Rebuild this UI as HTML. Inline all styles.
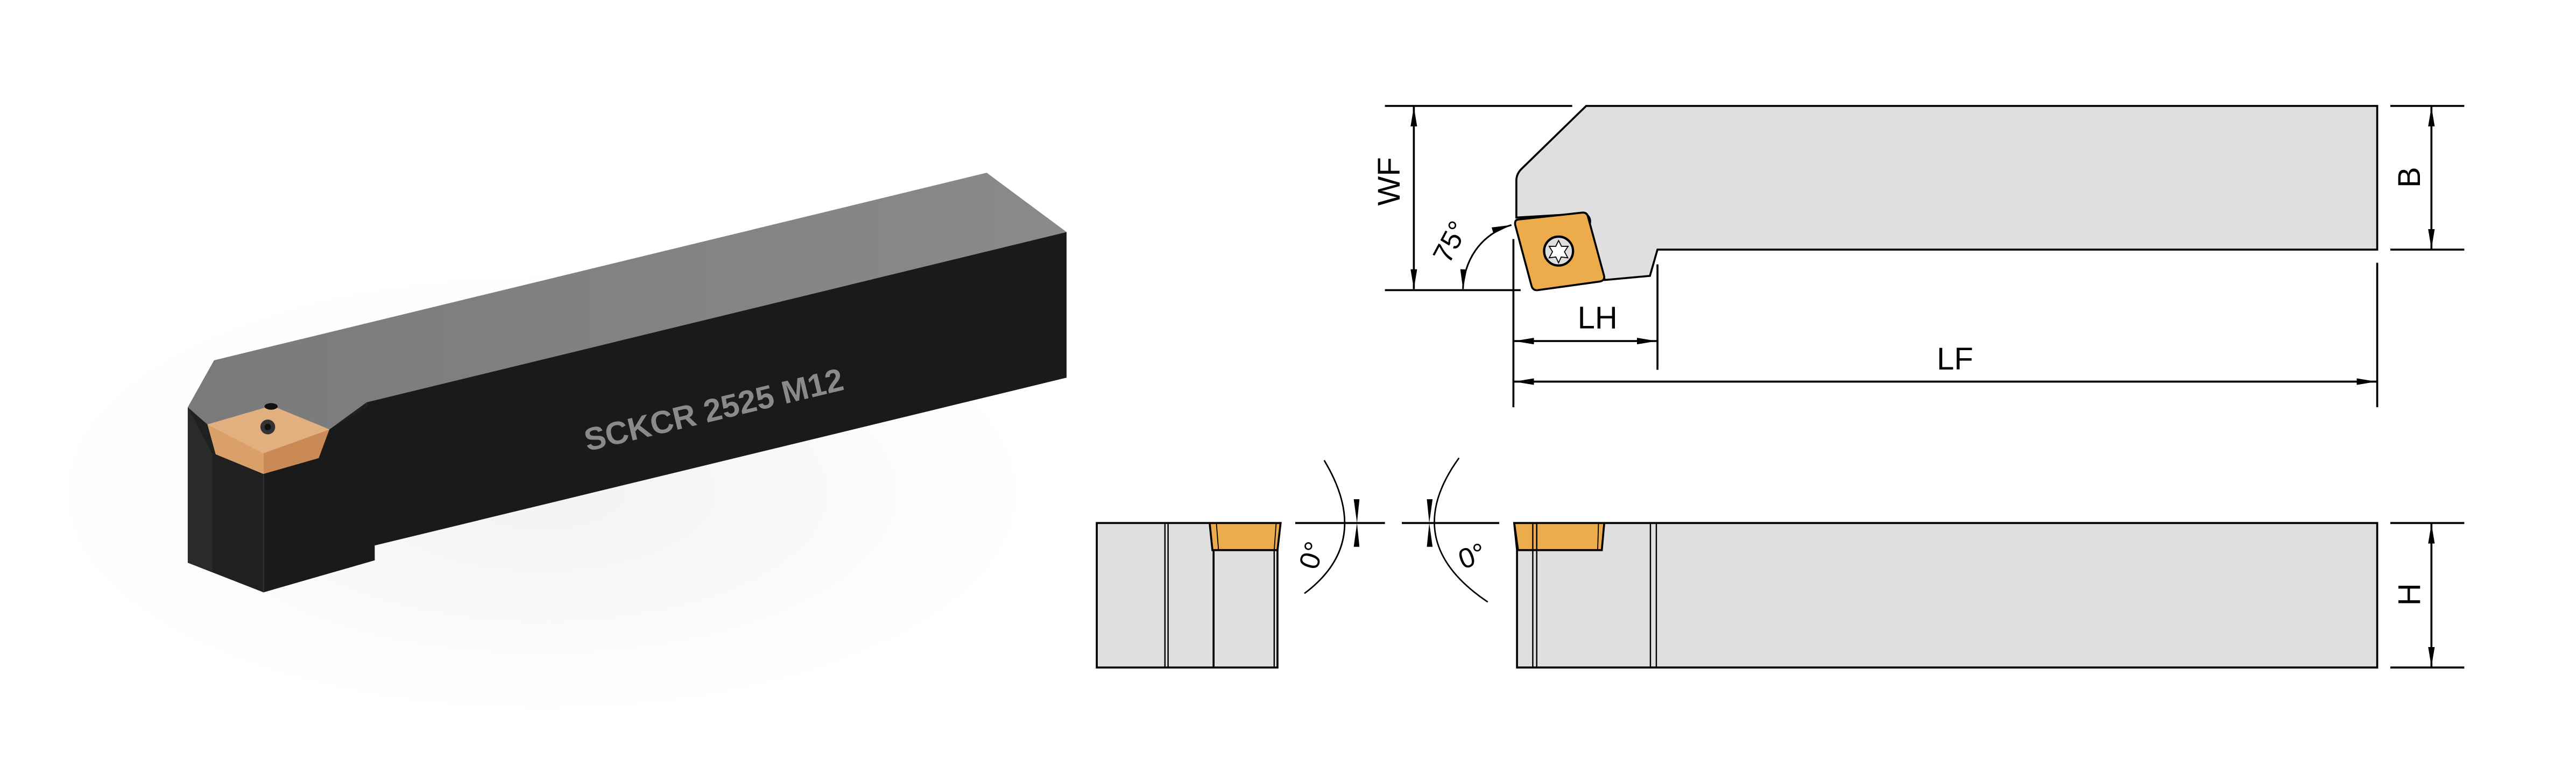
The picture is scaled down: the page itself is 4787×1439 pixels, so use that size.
<!DOCTYPE html>
<html><head><meta charset="utf-8"><style>
html,body{margin:0;padding:0;background:#fff;}
svg{display:block;}
text{font-family:"Liberation Sans",sans-serif;}
</style></head><body>
<svg width="4787" height="1439" viewBox="0 0 1568 471.35" xmlns="http://www.w3.org/2000/svg">
<defs>
<radialGradient id="sh" cx="0.5" cy="0.5" r="0.5">
<stop offset="0" stop-color="#e0e0e0"/><stop offset="0.6" stop-color="#f3f3f3"/><stop offset="1" stop-color="#ffffff" stop-opacity="0"/>
</radialGradient>
<linearGradient id="topg" x1="0" y1="0" x2="1" y2="0">
<stop offset="0" stop-color="#7a7a7a"/><stop offset="1" stop-color="#8a8a8a"/></linearGradient>
<marker id="ar" viewBox="0 0 12 4" refX="12" refY="2" markerWidth="12" markerHeight="4" markerUnits="userSpaceOnUse" orient="auto-start-reverse">
<path d="M0,0 L12,2 L0,4 z" fill="#000"/></marker>
</defs>
<ellipse cx="330" cy="300" rx="330" ry="150" fill="url(#sh)" opacity="0.4"/>
<!-- 3D tool -->
<polygon points="130.3,219.4 600.6,105.2 649.2,141.3 223.1,245 200.5,261.5 165.4,247.1 126.3,258.5 114.3,248" fill="url(#topg)"/>
<polygon points="223.1,245 649.2,141.3 649.2,230 228.1,332.2" fill="#1a1a1a"/>
<polygon points="114.3,248 126.3,258.5 131.3,276.6 160.4,288.6 200.5,261.5 223.1,245 228.1,341.2 160.4,360.7 114.3,342.7" fill="#202020"/>
<polygon points="114.3,248 129.3,276.6 129.3,348 114.3,342.7" fill="#2a2a2a"/>
<polygon points="160.4,288.6 200.5,261.5 228.1,245 228.1,341.2 160.4,360.7" fill="#1a1a1a"/>
<line x1="160.4" y1="288.6" x2="160.4" y2="360.7" stroke="#333" stroke-width="0.6"/>
<polygon points="126.3,258.5 165.4,247.1 200.5,261.5 160.4,276 " fill="#e2b07f"/>
<polygon points="126.3,258.5 160.4,276 160.4,288.6 131.3,276.6" fill="#d9a06a"/>
<polygon points="160.4,276 200.5,261.5 194,279 160.4,288.6" fill="#c98a55"/>
<circle cx="163" cy="260" r="4.5" fill="#333"/><circle cx="163" cy="260" r="2" fill="#111"/>
<ellipse cx="165" cy="247.5" rx="4" ry="2" fill="#111"/>
<text x="0" y="0" transform="translate(436,256) rotate(-13.5)" text-anchor="middle" font-size="19.5" font-weight="bold" fill="#8a8a8a">SCKCR 2525 M12</text>

<!-- Top view drawing -->
<g stroke="#000" stroke-width="1.2" fill="none">
<path d="M965.5,64.5 L1447,64.5 L1447,152 L1008.9,152 L1004.3,168 L976.8,170.5 L965,130 L923,132.5 L923,110 Q923,106 926,103 Z" fill="#e0dfe0"/>
<path d="M924,133.7 L963,129.5 Q966,129.2 966.6,132 L976.4,168 Q977,171 973.5,171.5 L936,176.7 Q933,177 932.2,174 L922.3,137 Q921.8,134 924,133.7 Z" fill="#edac4c"/>
<circle cx="948.7" cy="152.9" r="8.8" fill="#e0dfe0" stroke-width="1.4"/>
<path d="M948.7,146.5 L950.5,150 L954.5,150 L952.3,153.3 L954.3,157 L950.3,156.5 L948.7,160 L947,156.5 L943,157 L945,153.3 L943,150 L947,150 Z" stroke-width="0.6" fill="#fff"/>
<path d="M960.5,129.8 A5.5,5.5 0 0 1 968,136" stroke-width="0.8"/>
<!-- WF -->
<line x1="843" y1="64.5" x2="957" y2="64.5"/>
<line x1="843" y1="176.7" x2="925.6" y2="176.7"/>
<line x1="860.6" y1="65" x2="860.6" y2="176" marker-start="url(#ar)" marker-end="url(#ar)"/>
<path d="M890.5,176 C891,160 900,143 920,137" marker-start="url(#ar)" marker-end="url(#ar)" stroke-width="1"/>
<!-- LH/LF -->
<line x1="921.2" y1="145.6" x2="921.2" y2="248"/>
<line x1="1008.9" y1="161" x2="1008.9" y2="225.2"/>
<line x1="1447" y1="160" x2="1447" y2="248"/>
<line x1="921.7" y1="207.7" x2="1008.4" y2="207.7" marker-start="url(#ar)" marker-end="url(#ar)"/>
<line x1="921.7" y1="232.4" x2="1446.5" y2="232.4" marker-start="url(#ar)" marker-end="url(#ar)"/>
<!-- B / H -->
<line x1="1455" y1="64.5" x2="1500" y2="64.5"/>
<line x1="1455" y1="152" x2="1500" y2="152"/>
<line x1="1480" y1="65" x2="1480" y2="151.5" marker-start="url(#ar)" marker-end="url(#ar)"/>
<line x1="1455" y1="318.5" x2="1500" y2="318.5"/>
<line x1="1455" y1="406.5" x2="1500" y2="406.5"/>
<line x1="1480" y1="319" x2="1480" y2="406" marker-start="url(#ar)" marker-end="url(#ar)"/>

<!-- side views -->
<rect x="667.6" y="318.5" width="110" height="88" fill="#e0dfe0"/>
<line x1="709.1" y1="318.5" x2="709.1" y2="406.5" stroke-width="0.8"/>
<line x1="711" y1="318.5" x2="711" y2="406.5" stroke-width="0.8"/>
<line x1="738.7" y1="334.5" x2="738.7" y2="406.5"/>
<line x1="775.6" y1="334.5" x2="775.6" y2="406.5" stroke-width="0.8"/>
<path d="M736.3,318.5 L779.5,318.5 L777.6,335 L738,335 Z" fill="#edac4c"/>
<line x1="740.4" y1="318.5" x2="741.7" y2="335" stroke-width="0.6"/>
<line x1="776.8" y1="318.5" x2="775.6" y2="335" stroke-width="0.6"/>

<path d="M923.4,318.5 L1447,318.5 L1447,406.5 L923.4,406.5 L923.4,335 L921.7,318.5 Z" fill="#e0dfe0"/>
<path d="M921.7,318.5 L976.5,318.5 L975,335 L924,335 Z" fill="#edac4c"/>
<line x1="933" y1="318.5" x2="933" y2="406.5" stroke-width="0.8"/>
<line x1="935.4" y1="318.5" x2="935.4" y2="406.5" stroke-width="0.8"/>
<line x1="973" y1="318.5" x2="972.5" y2="335" stroke-width="0.6"/>
<line x1="1004.6" y1="318.5" x2="1004.6" y2="406.5" stroke-width="0.8"/>
<line x1="1008.2" y1="318.5" x2="1008.2" y2="406.5" stroke-width="0.8"/>

<!-- angle 0 -->
<line x1="788.4" y1="318.5" x2="843" y2="318.5"/>
<path d="M806,280.3 Q836,330 794,361.4" stroke-width="0.9"/>
<line x1="853.3" y1="318.5" x2="912.6" y2="318.5"/>
<path d="M888.1,278.9 Q851,330 905.6,366.6" stroke-width="0.9"/>
</g>
<polygon points="824,304 827.5,304 826,318.5" fill="#000"/>
<polygon points="824,333 827.5,333 826,318.5" fill="#000"/>
<polygon points="868.5,304 872,304 870,318.5" fill="#000"/>
<polygon points="868.5,333 872,333 870,318.5" fill="#000"/>

<text transform="translate(852,110.5) rotate(-90)" text-anchor="middle" font-size="19">WF</text>
<text transform="translate(888,150) rotate(-62)" text-anchor="middle" font-size="17">75°</text>
<text x="972.4" y="200" text-anchor="middle" font-size="19">LH</text>
<text x="1190" y="225" text-anchor="middle" font-size="19">LF</text>
<text transform="translate(1473,108) rotate(-90)" text-anchor="middle" font-size="19">B</text>
<text transform="translate(1473,362) rotate(-90)" text-anchor="middle" font-size="19">H</text>
<text transform="translate(804,340) rotate(-72)" text-anchor="middle" font-size="17">0°</text>
<text transform="translate(898,344) rotate(-20)" text-anchor="middle" font-size="17">0°</text>
</svg>
</body></html>
